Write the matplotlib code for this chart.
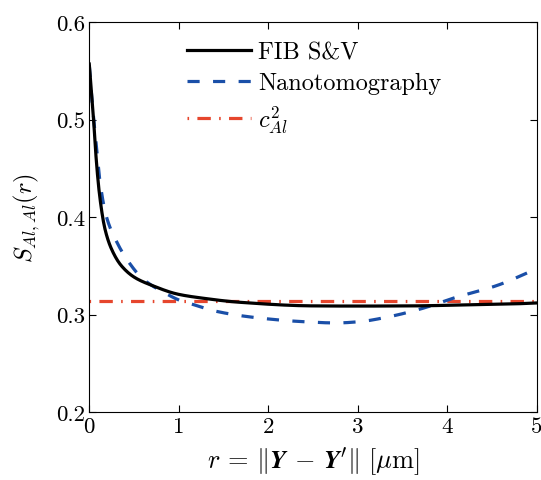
import matplotlib
matplotlib.use("Agg")
import matplotlib.pyplot as plt
import numpy as np

plt.rcParams['font.family'] = 'cmr10'
plt.rcParams['mathtext.fontset'] = 'cm'
plt.rcParams['axes.formatter.use_mathtext'] = True

# FIB S&V
r_fib = [0.0, 0.045, 0.083, 0.12, 0.175, 0.25, 0.36, 0.51, 0.70, 0.99, 1.26, 1.68, 2.5, 3.0, 3.62, 4.2, 4.73, 5.0]
s_fib = [0.557, 0.504, 0.453, 0.419, 0.388, 0.367, 0.350, 0.338, 0.330, 0.321, 0.317, 0.3127, 0.309, 0.3088, 0.309, 0.310, 0.311, 0.312]
# Nanotomography
r_nano = [0.0, 0.03, 0.064, 0.12, 0.19, 0.31, 0.44, 0.60, 0.83, 1.03, 1.14, 1.39, 1.83, 2.39, 2.76, 3.02, 3.32, 3.70, 4.10, 4.55, 5.0]
s_nano = [0.556, 0.52, 0.487, 0.436, 0.401, 0.374, 0.354, 0.3366, 0.323, 0.314, 0.311, 0.304, 0.2973, 0.2928, 0.2915, 0.2928, 0.2973, 0.3058, 0.3178, 0.3297, 0.347]
c_al2 = 0.3137

fig = plt.figure(figsize=(5.41, 4.81), dpi=100)
ax = fig.add_axes([0.165, 0.141, 0.827, 0.811])

def smooth(x, y):
    xs = np.linspace(min(x), max(x), 600)
    x = np.asarray(x, float); y = np.asarray(y, float)
    h = np.diff(x); d = np.diff(y) / h
    m = np.zeros_like(y)
    for k in range(1, len(x) - 1):
        if d[k-1] * d[k] <= 0:
            m[k] = 0
        else:
            w1 = 2*h[k] + h[k-1]; w2 = h[k] + 2*h[k-1]
            m[k] = (w1 + w2) / (w1/d[k-1] + w2/d[k])
    m[0] = d[0]; m[-1] = d[-1]
    idx = np.clip(np.searchsorted(x, xs) - 1, 0, len(x) - 2)
    t = (xs - x[idx]) / h[idx]
    h00 = 2*t**3 - 3*t**2 + 1; h10 = t**3 - 2*t**2 + t
    h01 = -2*t**3 + 3*t**2; h11 = t**3 - t**2
    ys = h00*y[idx] + h10*h[idx]*m[idx] + h01*y[idx+1] + h11*h[idx]*m[idx+1]
    return xs, ys

xf, yf = smooth(r_fib, s_fib)
xn, yn = smooth(r_nano, s_nano)

lw = 2.3
ax.plot(xf, yf, color='black', lw=lw, label=r'FIB S&V', zorder=3)
ax.plot(xn, yn, color='#1a4fa8', lw=lw, dashes=(3.8, 4.2), label='Nanotomography', zorder=2)
ax.plot([0, 5], [c_al2, c_al2], color='#e6462d', lw=lw, dashes=(0.5, 2.6, 4.2, 2.6),
        label=r'$c_{Al}^2$', zorder=1)

ax.set_xlim(0, 5)
ax.set_ylim(0.2, 0.6)
ax.set_xticks([0, 1, 2, 3, 4, 5])
ax.set_yticks([0.2, 0.3, 0.4, 0.5, 0.6])
ax.set_xticklabels(['0', '1', '2', '3', '4', '5'])
ax.set_yticklabels(['0.2', '0.3', '0.4', '0.5', '0.6'])
ax.tick_params(direction='in', top=True, right=True, length=5, width=0.8,
               labelsize=16.5, pad=3, colors='black')
for s in ax.spines.values():
    s.set_linewidth(0.8)

ax.set_xlabel(r"$r\,=\,\Vert\boldsymbol{Y}\,-\,\boldsymbol{Y}'\Vert\ [\mu\mathrm{m}]$", fontsize=19, labelpad=6)
ax.set_ylabel(r'$S_{Al,Al}(r)$', fontsize=17.5, labelpad=10)

leg = ax.legend(loc='upper left', bbox_to_anchor=(0.218, 0.95), frameon=False,
                fontsize=17.5, handlelength=2.63, handletextpad=0.3, labelspacing=0.35,
                borderpad=0, borderaxespad=0)

fig.savefig('out.png', dpi=100)
